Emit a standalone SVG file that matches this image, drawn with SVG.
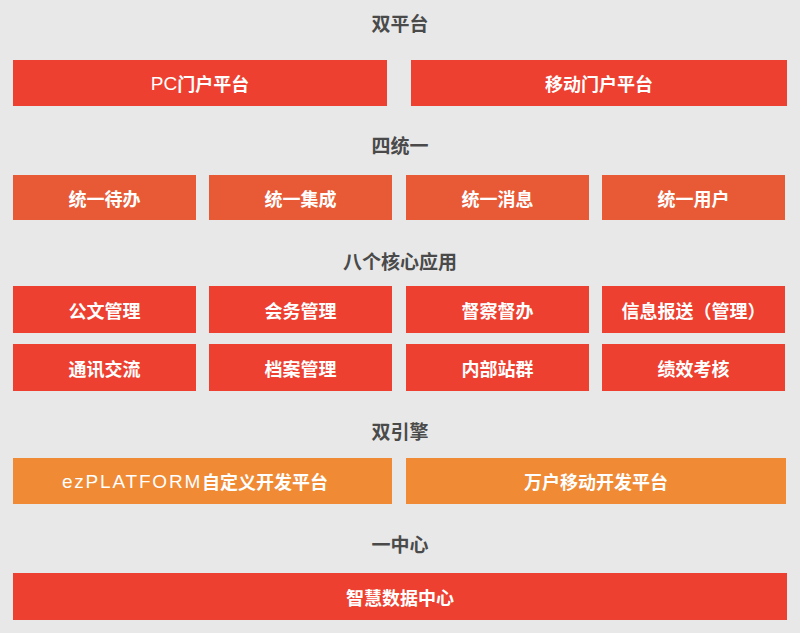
<svg xmlns="http://www.w3.org/2000/svg" width="800" height="633" viewBox="0 0 800 633">
<style>
.h{font-family:"Noto Sans CJK SC","Liberation Sans",sans-serif;font-size:19px;font-weight:bold;fill:#4a4a4a;text-anchor:middle}
.t{font-family:"Noto Sans CJK SC","Liberation Sans",sans-serif;font-size:18px;font-weight:bold;fill:#ffffff;text-anchor:middle;dominant-baseline:central}
.lat{font-family:"Liberation Sans",sans-serif;font-weight:normal}
.red{fill:#ee4030}
.or{fill:#e75a35}
.ye{fill:#f08a35}
</style>
<rect width="800" height="633" fill="#e8e8e8"/>
<g id="headings">
<text class="h" x="400" y="31">双平台</text>
<text class="h" x="400" y="153">四统一</text>
<text class="h" x="400" y="269">八个核心应用</text>
<text class="h" x="400" y="439">双引擎</text>
<text class="h" x="400" y="552">一中心</text>
</g>
<g id="pc"><rect class="red" x="13" y="60" width="374" height="46"/><text class="t" x="200" y="83"><tspan class="lat" font-size="19">PC</tspan>门户平台</text></g>
<g id="mobile"><rect class="red" x="411" y="60" width="376" height="46"/><text class="t" x="599" y="83">移动门户平台</text></g>
<g id="u1"><rect class="or" x="13" y="175" width="183" height="45"/><text class="t" x="104.5" y="197.5">统一待办</text></g>
<g id="u2"><rect class="or" x="209" y="175" width="183" height="45"/><text class="t" x="300.5" y="197.5">统一集成</text></g>
<g id="u3"><rect class="or" x="406" y="175" width="183" height="45"/><text class="t" x="497.5" y="197.5">统一消息</text></g>
<g id="u4"><rect class="or" x="602" y="175" width="183" height="45"/><text class="t" x="693.5" y="197.5">统一用户</text></g>
<g id="a1"><rect class="red" x="13" y="286" width="183" height="47"/><text class="t" x="104.5" y="309.5">公文管理</text></g>
<g id="a2"><rect class="red" x="209" y="286" width="183" height="47"/><text class="t" x="300.5" y="309.5">会务管理</text></g>
<g id="a3"><rect class="red" x="406" y="286" width="183" height="47"/><text class="t" x="497.5" y="309.5">督察督办</text></g>
<g id="a4"><rect class="red" x="602" y="286" width="183" height="47"/><text class="t" x="693.5" y="309.5">信息报送（管理）</text></g>
<g id="a5"><rect class="red" x="13" y="344" width="183" height="47"/><text class="t" x="104.5" y="367.5">通讯交流</text></g>
<g id="a6"><rect class="red" x="209" y="344" width="183" height="47"/><text class="t" x="300.5" y="367.5">档案管理</text></g>
<g id="a7"><rect class="red" x="406" y="344" width="183" height="47"/><text class="t" x="497.5" y="367.5">内部站群</text></g>
<g id="a8"><rect class="red" x="602" y="344" width="183" height="47"/><text class="t" x="693.5" y="367.5">绩效考核</text></g>
<g id="e1"><rect class="ye" x="13" y="458" width="379" height="46"/><text class="t" x="195" y="481"><tspan class="lat" font-size="19" letter-spacing="1.8">ezPLATFORM</tspan>自定义开发平台</text></g>
<g id="e2"><rect class="ye" x="406" y="458" width="380" height="46"/><text class="t" x="596" y="481">万户移动开发平台</text></g>
<g id="dc"><rect class="red" x="13" y="573" width="774" height="47"/><text class="t" x="400" y="596.5">智慧数据中心</text></g>
<g id="connectors"/>
</svg>
